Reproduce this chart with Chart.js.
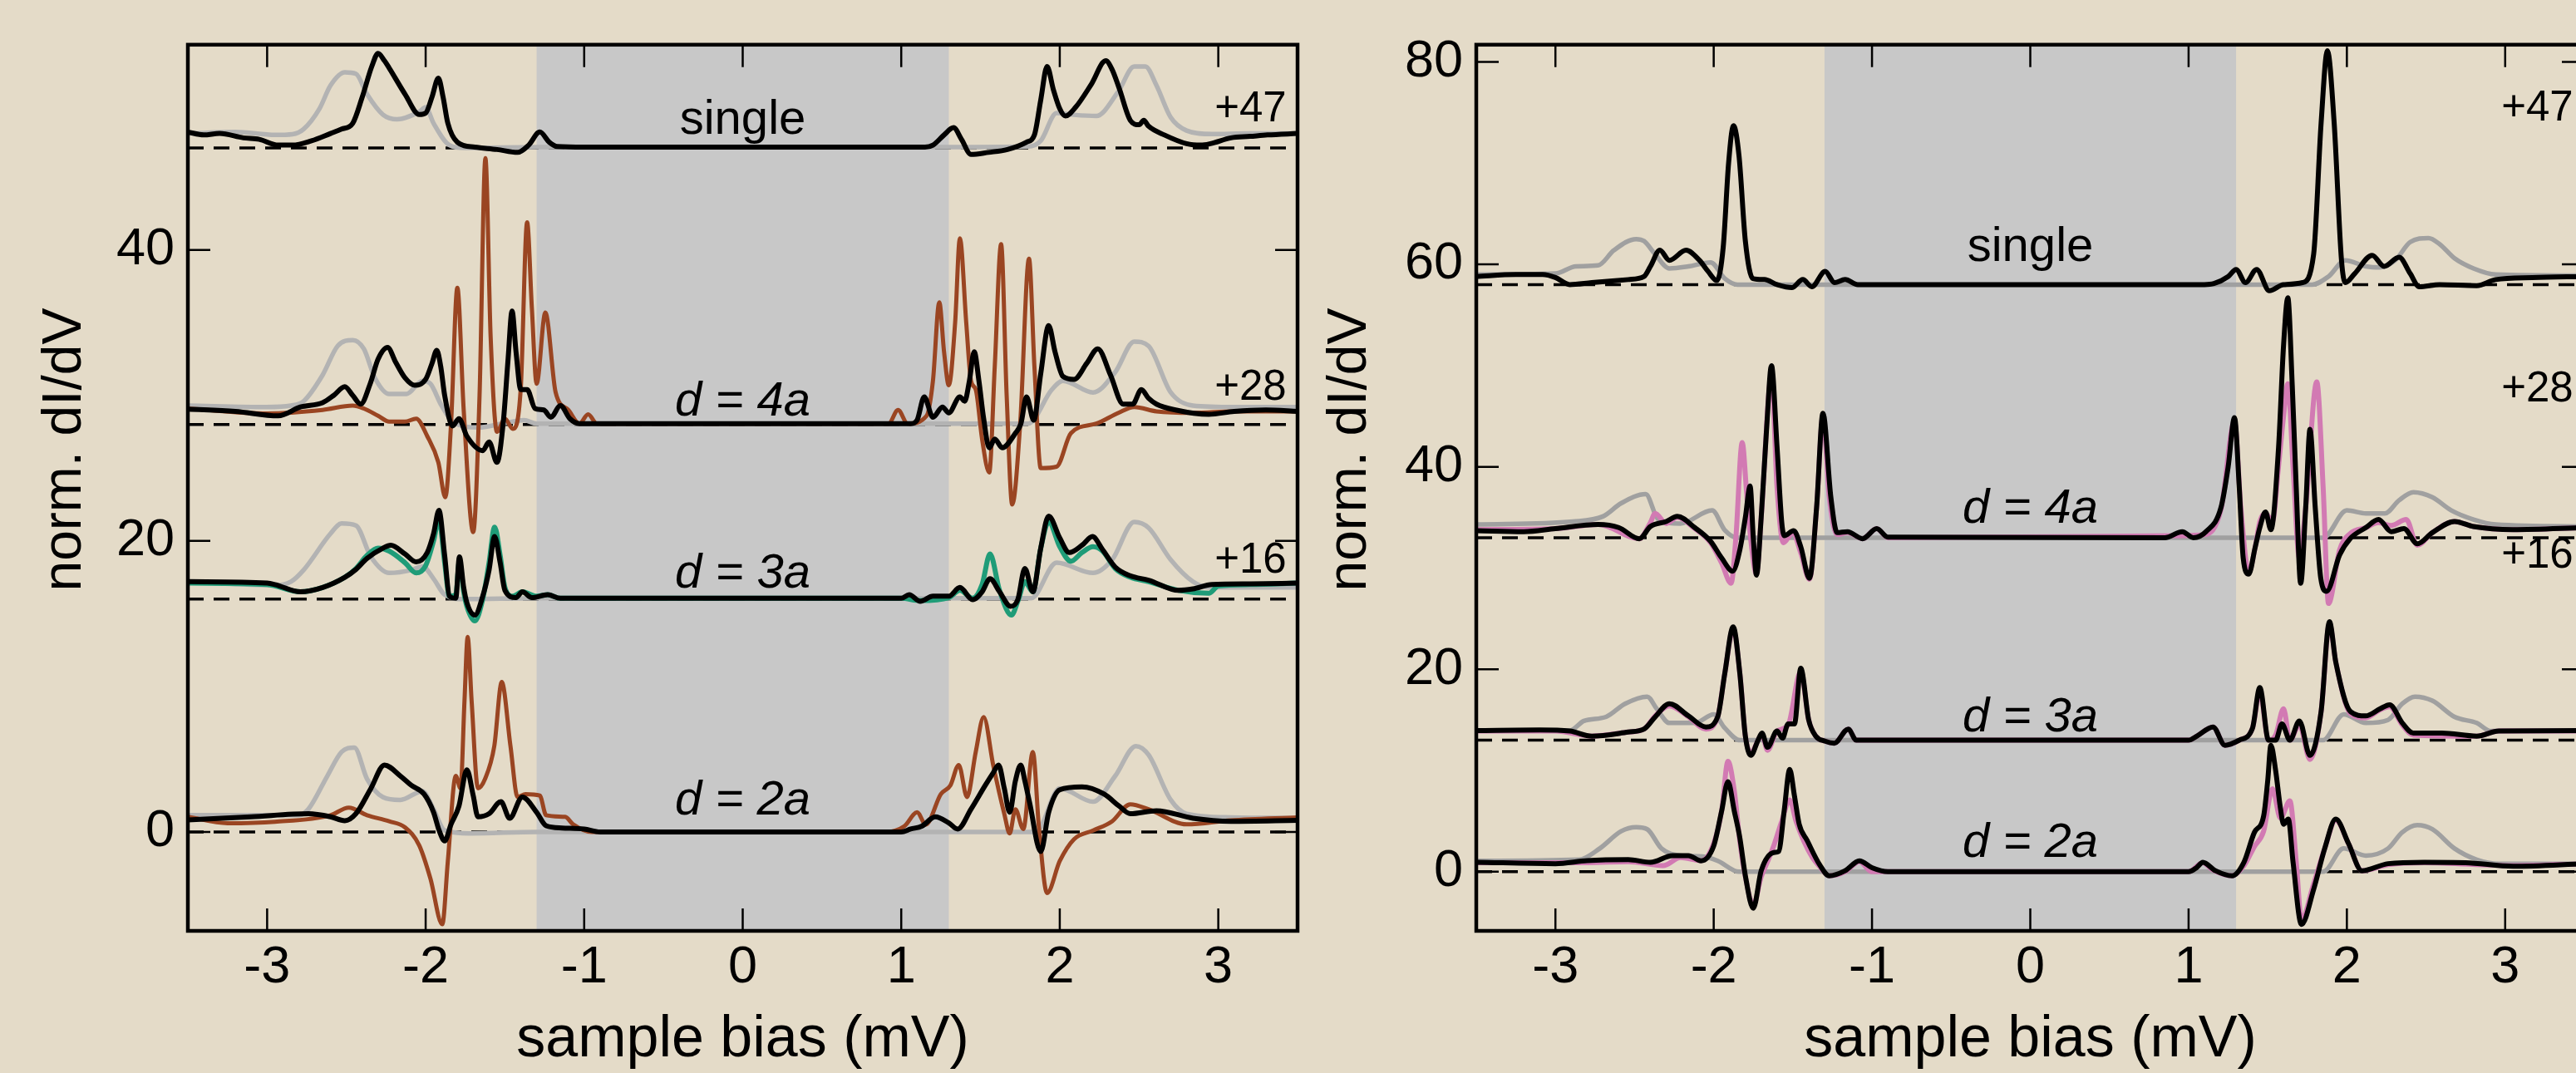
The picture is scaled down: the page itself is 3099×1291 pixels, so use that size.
<!DOCTYPE html>
<html>
<head>
<meta charset="utf-8">
<script src="https://cdn.jsdelivr.net/npm/chart.js@4.4.1/dist/chart.umd.min.js"></script>
<style>
    html, body { margin: 0; padding: 0; overflow: hidden; background: #e4dbc8; width: 3099px; height: 1291px; }
    canvas { position: absolute; top: 0; }
    #left { left: 0; }
    #right { left: 1570px; }
</style>
</head>
<body>
<canvas id="left" width="1570" height="1291"></canvas>
<canvas id="right" width="1580" height="1291"></canvas>
<script>
// axis ticks and ranges
const xTicks = [-3, -2, -1, 0, 1, 2, 3];
const yTicksL = [0, 20, 40];
const yTicksR = [0, 20, 40, 60, 80];
const gapEdges = [-1.3, 1.3];
const groupNames = ["single", "d = 4a", "d = 3a", "d = 2a"];
const offsetLabels = ["+47", "+28", "+16"];
const baseL = [47, 28, 16, 0];
const baseR = [58, 33, 13, 0];

// ---- left panel: [bias mV, norm. dI/dV] ----
const singleGrayL = [[-3.5,48.0],[-3.2,48.1],[-2.95,47.9],[-2.84,47.95],[-2.77,48.3],[-2.67,49.7],[-2.6,51.3],[-2.51,52.2],[-2.44,52.1],[-2.37,50.7],[-2.27,49.3],[-2.18,48.97],[-2.04,49.5],[-2.0,49.8],[-1.95,48.7],[-1.85,47.2],[-1.75,47.0],[-1.3,47.06],[1.3,47.06],[1.8,47.1],[1.88,47.5],[1.98,49.4],[2.07,49.3],[2.23,49.2],[2.37,50.9],[2.47,52.6],[2.54,52.6],[2.61,51.3],[2.7,49.1],[2.8,48.2],[2.96,47.96],[3.2,48.0],[3.5,48.0]];
const singleBlackL = [[-3.5,48.1],[-3.4,47.9],[-3.3,48.0],[-3.15,47.7],[-3.05,47.6],[-2.93,47.2],[-2.84,47.2],[-2.72,47.5],[-2.6,48.0],[-2.53,48.3],[-2.46,48.7],[-2.4,50.5],[-2.34,52.6],[-2.3,53.5],[-2.26,53.0],[-2.23,52.5],[-2.13,50.7],[-2.04,49.3],[-2.0,49.4],[-1.96,50.5],[-1.92,51.8],[-1.89,50.5],[-1.86,48.7],[-1.8,47.4],[-1.69,47.06],[-1.55,46.9],[-1.42,46.7],[-1.35,47.2],[-1.28,48.1],[-1.22,47.4],[-1.17,47.1],[-1.0,47.06],[1.15,47.06],[1.2,47.2],[1.27,47.9],[1.33,48.4],[1.38,47.6],[1.44,46.56],[1.55,46.7],[1.67,46.9],[1.79,47.4],[1.84,47.9],[1.88,50.3],[1.92,52.6],[1.96,51.0],[2.0,49.7],[2.035,49.2],[2.1,49.8],[2.2,51.4],[2.29,53.0],[2.33,52.4],[2.375,51.1],[2.445,48.9],[2.5,48.6],[2.53,48.9],[2.56,48.5],[2.66,47.9],[2.8,47.3],[2.89,47.2],[2.95,47.3],[3.08,47.7],[3.2,47.8],[3.31,47.9],[3.5,48.0]];

const d4GrayL = [[-3.5,29.3],[-3.0,29.2],[-2.85,29.3],[-2.77,29.6],[-2.65,31.4],[-2.555,33.4],[-2.46,33.8],[-2.39,33.2],[-2.32,31.2],[-2.23,30.1],[-2.12,30.1],[-2.02,31.0],[-1.97,30.8],[-1.9,29.3],[-1.83,28.2],[-1.665,27.8],[-1.5,28.1],[-1.38,28.3],[-1.3,28.06],[1.8,28.06],[1.95,30.4],[2.02,31.0],[2.21,30.2],[2.35,31.6],[2.47,33.7],[2.56,33.4],[2.7,30.2],[2.84,29.3],[3.1,29.2],[3.5,29.2]];
const d4BrownL = [[-3.5,29.1],[-3.0,28.76],[-2.65,29.0],[-2.46,29.3],[-2.39,29.1],[-2.3,28.6],[-2.23,28.2],[-2.13,28.2],[-2.06,28.4],[-1.99,27.2],[-1.92,25.4],[-1.876,23.0],[-1.84,28.0],[-1.8,37.4],[-1.76,29.0],[-1.7,20.6],[-1.66,30.0],[-1.623,46.3],[-1.59,34.0],[-1.55,27.5],[-1.5,28.4],[-1.45,27.7],[-1.4,30.5],[-1.36,41.9],[-1.33,36.0],[-1.3,30.8],[-1.245,35.7],[-1.18,30.2],[-1.1,29.0],[-1.03,28.06],[-0.975,28.7],[-0.92,28.06],[0.92,28.06],[0.98,29.0],[1.04,28.06],[1.16,28.6],[1.2,31.0],[1.24,36.4],[1.27,33.0],[1.3,30.7],[1.34,35.0],[1.37,40.8],[1.41,35.0],[1.44,31.0],[1.47,30.4],[1.51,27.0],[1.555,24.7],[1.59,32.0],[1.63,40.4],[1.665,30.0],[1.7,22.5],[1.75,28.0],[1.806,39.4],[1.84,32.0],[1.88,25.0],[1.98,25.1],[2.07,27.4],[2.23,28.06],[2.37,28.8],[2.47,29.2],[2.61,28.9],[2.84,28.8],[3.1,28.9],[3.5,28.9]];
const d4BlackL = [[-3.5,29.06],[-3.2,28.9],[-2.93,28.6],[-2.79,29.2],[-2.65,29.5],[-2.58,30.0],[-2.51,30.6],[-2.46,30.0],[-2.41,29.4],[-2.35,30.8],[-2.3,32.5],[-2.24,33.3],[-2.19,32.3],[-2.13,31.2],[-2.07,30.7],[-2.0,31.1],[-1.96,32.2],[-1.93,33.1],[-1.905,32.0],[-1.88,30.0],[-1.83,27.9],[-1.79,28.4],[-1.74,27.2],[-1.64,26.2],[-1.6,26.8],[-1.55,25.4],[-1.51,28.2],[-1.48,32.5],[-1.455,35.8],[-1.43,33.0],[-1.4,30.4],[-1.36,30.4],[-1.31,29.1],[-1.255,29.0],[-1.21,28.5],[-1.15,29.3],[-1.09,28.4],[-1.03,28.06],[1.06,28.06],[1.1,28.3],[1.145,29.9],[1.2,28.5],[1.26,29.2],[1.3,28.8],[1.37,29.9],[1.4,29.6],[1.43,31.0],[1.46,33.0],[1.49,31.0],[1.52,28.4],[1.555,26.4],[1.59,27.0],[1.637,26.4],[1.72,27.4],[1.755,28.06],[1.79,29.9],[1.836,28.3],[1.88,31.5],[1.93,34.8],[1.97,33.0],[2.02,31.3],[2.09,31.1],[2.17,32.2],[2.24,33.2],[2.32,31.4],[2.4,29.4],[2.46,29.4],[2.515,30.4],[2.56,29.8],[2.61,29.4],[2.73,29.0],[2.94,28.7],[3.1,28.9],[3.3,29.0],[3.5,28.9]];

const d3GrayL = [[-3.5,17.2],[-2.95,16.95],[-2.85,17.2],[-2.77,18.0],[-2.6,20.5],[-2.53,21.2],[-2.44,21.06],[-2.345,18.9],[-2.23,17.8],[-2.09,18.0],[-2.02,18.25],[-1.95,17.4],[-1.88,16.3],[-1.76,16.0],[-1.3,16.06],[1.82,16.06],[1.98,18.5],[2.21,17.8],[2.33,18.7],[2.47,21.3],[2.56,20.9],[2.7,18.7],[2.84,17.2],[2.94,16.8],[3.5,16.8]];
const d3GreenL = [[-3.5,17.1],[-3.0,17.0],[-2.79,16.5],[-2.65,16.8],[-2.51,17.5],[-2.44,18.1],[-2.37,19.0],[-2.3,19.5],[-2.23,19.3],[-2.13,18.5],[-2.06,17.8],[-2.0,18.3],[-1.95,20.0],[-1.916,21.5],[-1.88,18.5],[-1.85,16.2],[-1.81,16.3],[-1.787,18.6],[-1.76,16.5],[-1.74,15.5],[-1.69,14.5],[-1.64,16.0],[-1.6,18.5],[-1.565,20.95],[-1.53,19.0],[-1.5,16.8],[-1.45,16.2],[-1.39,16.5],[-1.3,16.2],[-1.23,16.3],[-1.15,16.06],[1.0,16.06],[1.12,15.9],[1.3,16.1],[1.37,16.6],[1.45,16.06],[1.51,17.0],[1.56,19.1],[1.62,16.6],[1.695,14.9],[1.74,16.0],[1.78,17.2],[1.83,16.5],[1.88,19.5],[1.93,21.3],[2.0,19.6],[2.07,18.6],[2.14,19.2],[2.21,19.6],[2.27,19.3],[2.35,18.1],[2.445,17.5],[2.56,17.2],[2.75,16.6],[2.94,16.4],[3.0,16.9],[3.2,17.0],[3.5,17.1]];
const d3BlackL = [[-3.5,17.2],[-3.0,17.1],[-2.95,17.0],[-2.79,16.5],[-2.65,16.8],[-2.51,17.5],[-2.44,18.04],[-2.37,18.8],[-2.27,19.5],[-2.22,19.7],[-2.13,19.1],[-2.06,18.56],[-1.99,19.2],[-1.95,20.5],[-1.916,22.1],[-1.88,19.0],[-1.85,16.2],[-1.81,16.06],[-1.787,18.9],[-1.76,16.8],[-1.74,15.75],[-1.69,14.9],[-1.64,16.2],[-1.6,18.0],[-1.565,20.3],[-1.53,18.5],[-1.5,16.6],[-1.43,16.1],[-1.39,16.5],[-1.33,16.1],[-1.23,16.3],[-1.15,16.06],[1.0,16.06],[1.05,16.3],[1.12,15.85],[1.2,16.2],[1.3,16.2],[1.37,16.8],[1.45,15.96],[1.51,16.5],[1.56,17.4],[1.62,16.5],[1.69,15.5],[1.735,15.96],[1.78,18.1],[1.83,16.5],[1.88,19.5],[1.93,21.7],[2.0,20.2],[2.06,19.2],[2.14,19.7],[2.206,20.3],[2.27,19.4],[2.35,18.2],[2.445,17.6],[2.56,17.3],[2.75,16.6],[2.84,16.7],[2.96,17.0],[3.2,17.05],[3.5,17.1]];

const d2GrayL = [[-3.5,1.15],[-2.8,1.15],[-2.74,1.56],[-2.62,3.85],[-2.53,5.5],[-2.45,5.8],[-2.37,3.65],[-2.27,2.4],[-2.16,2.2],[-2.02,2.8],[-1.95,1.56],[-1.88,0.1],[-1.72,-0.1],[-1.3,0],[1.85,0],[2.0,3.0],[2.21,2.08],[2.35,3.85],[2.48,5.9],[2.56,5.3],[2.7,2.2],[2.8,1.25],[3.08,1.0],[3.5,0.95]];
const d2BrownL = [[-3.5,1.04],[-3.25,0.6],[-2.95,0.7],[-2.6,1.15],[-2.485,1.67],[-2.37,1.15],[-2.23,0.73],[-2.13,0.31],[-2.04,-0.94],[-1.97,-3.2],[-1.895,-6.35],[-1.86,-2.0],[-1.81,3.85],[-1.78,3.0],[-1.755,9.0],[-1.735,13.4],[-1.71,9.0],[-1.67,3.0],[-1.625,3.65],[-1.567,5.9],[-1.52,10.3],[-1.465,5.9],[-1.42,2.4],[-1.37,2.6],[-1.28,2.5],[-1.24,1.15],[-1.12,1.04],[-1.07,0.52],[-0.95,0],[0.9,0],[1.02,0.4],[1.1,1.35],[1.155,0.5],[1.25,2.6],[1.31,3.2],[1.363,4.6],[1.415,2.4],[1.47,5.5],[1.52,7.9],[1.58,4.6],[1.65,1.25],[1.684,-0.1],[1.72,1.56],[1.77,0.2],[1.83,5.5],[1.87,0.1],[1.92,-4.2],[2.0,-2.0],[2.09,-0.5],[2.21,0.1],[2.33,0.73],[2.445,1.9],[2.56,1.56],[2.8,0.52],[3.08,0.8],[3.5,1.0]];
const d2BlackL = [[-3.5,0.83],[-3.1,1.04],[-2.74,1.25],[-2.6,1.04],[-2.51,0.77],[-2.44,1.25],[-2.345,3.0],[-2.26,4.6],[-2.16,3.85],[-2.09,3.2],[-2.01,2.6],[-1.95,1.35],[-1.915,0.1],[-1.88,-0.62],[-1.84,0.52],[-1.79,1.77],[-1.74,4.27],[-1.7,2.5],[-1.67,1.04],[-1.6,1.25],[-1.525,2.08],[-1.47,0.94],[-1.39,2.4],[-1.3,1.35],[-1.24,0.42],[-1.14,0.27],[-1.0,0.2],[-0.9,0],[1.0,0],[1.06,0.2],[1.13,0.4],[1.215,1.04],[1.3,0.62],[1.356,0.2],[1.44,1.56],[1.53,3.2],[1.58,4.06],[1.614,4.6],[1.65,3.0],[1.684,1.35],[1.72,3.5],[1.754,4.6],[1.78,3.5],[1.81,2.0],[1.88,-1.35],[1.93,1.35],[2.0,2.9],[2.14,3.1],[2.28,2.6],[2.375,1.77],[2.445,1.25],[2.61,1.46],[2.84,0.94],[3.08,0.73],[3.5,0.8]];

// ---- right panel ----
const singleGrayR = [[-3.5,59.0],[-3.0,59.1],[-2.87,59.8],[-2.73,59.9],[-2.63,61.4],[-2.49,62.5],[-2.44,62.3],[-2.37,61.0],[-2.28,59.6],[-2.16,59.8],[-2.02,60.2],[-1.93,58.6],[-1.85,58.0],[-1.3,58.0],[1.78,58.0],[1.884,58.8],[1.99,60.4],[2.12,59.8],[2.21,59.7],[2.305,60.4],[2.4,62.2],[2.516,62.6],[2.586,62.0],[2.68,60.6],[2.8,59.6],[2.94,59.0],[3.5,58.9]];
const singleBlackR = [[-3.5,58.8],[-3.25,59.0],[-3.08,59.0],[-3.0,58.7],[-2.91,58.0],[-2.77,58.2],[-2.54,58.5],[-2.44,58.8],[-2.4,59.8],[-2.34,61.4],[-2.28,60.4],[-2.175,61.4],[-2.09,60.4],[-2.035,59.3],[-1.98,58.4],[-1.94,61.7],[-1.906,70.0],[-1.875,73.7],[-1.84,70.7],[-1.8,62.3],[-1.753,58.6],[-1.68,58.5],[-1.6,58.0],[-1.507,57.7],[-1.437,58.5],[-1.38,57.8],[-1.296,59.3],[-1.237,58.2],[-1.17,58.5],[-1.09,58.0],[1.1,58.0],[1.16,58.1],[1.25,58.8],[1.3,59.5],[1.36,58.2],[1.43,59.5],[1.51,57.4],[1.6,58.0],[1.72,58.2],[1.79,61.0],[1.837,73.9],[1.877,81.1],[1.92,73.9],[1.966,60.4],[1.99,58.2],[2.05,59.1],[2.16,60.9],[2.235,59.8],[2.33,60.7],[2.4,59.1],[2.457,57.8],[2.586,58.0],[2.82,57.9],[2.94,58.5],[3.17,58.7],[3.5,58.8]];

const d4GrayR = [[-3.5,34.3],[-2.89,34.6],[-2.7,35.1],[-2.585,36.4],[-2.43,37.3],[-2.35,34.8],[-2.21,34.4],[-2.01,35.7],[-1.93,33.75],[-1.85,33.0],[-1.3,33.0],[1.85,33.0],[2.0,35.7],[2.12,35.4],[2.24,35.4],[2.33,36.7],[2.42,37.5],[2.54,37.0],[2.66,35.7],[2.8,34.8],[2.94,34.3],[3.5,34.1]];
const d4PinkR = [[-3.5,33.8],[-3.0,33.9],[-2.73,34.3],[-2.47,32.9],[-2.4,34.5],[-2.37,35.4],[-2.3,34.4],[-2.23,35.0],[-2.12,33.9],[-2.02,32.5],[-1.95,30.5],[-1.89,28.5],[-1.86,33.0],[-1.82,42.4],[-1.79,37.0],[-1.76,32.0],[-1.73,29.4],[-1.7,35.0],[-1.635,49.0],[-1.6,38.0],[-1.56,32.5],[-1.5,33.5],[-1.45,31.5],[-1.395,28.9],[-1.35,36.0],[-1.31,45.0],[-1.27,37.0],[-1.22,33.3],[-1.155,33.5],[-1.06,32.9],[-0.97,33.9],[-0.9,33.0],[0.96,33.2],[1.1,33.3],[1.205,35.8],[1.29,44.5],[1.33,36.0],[1.38,29.6],[1.42,32.0],[1.45,34.6],[1.486,35.4],[1.53,34.6],[1.568,40.0],[1.6,45.0],[1.627,48.2],[1.66,40.0],[1.7,31.0],[1.74,36.0],[1.81,48.4],[1.85,38.0],[1.884,26.5],[1.954,31.8],[2.02,33.4],[2.12,34.0],[2.2,34.5],[2.28,34.2],[2.375,34.8],[2.445,32.25],[2.54,33.5],[2.68,34.6],[2.8,34.1],[3.05,33.8],[3.5,34.0]];
const d4BlackR = [[-3.5,33.7],[-3.2,33.6],[-3.0,33.9],[-2.73,34.3],[-2.6,34.0],[-2.47,32.9],[-2.4,34.1],[-2.3,34.6],[-2.23,35.1],[-2.12,34.0],[-2.02,32.65],[-1.95,31.0],[-1.88,29.7],[-1.835,31.8],[-1.8,35.0],[-1.77,38.1],[-1.75,33.0],[-1.73,29.3],[-1.7,35.0],[-1.665,44.0],[-1.635,50.0],[-1.6,42.0],[-1.57,34.5],[-1.554,33.2],[-1.495,33.7],[-1.45,32.1],[-1.395,29.0],[-1.35,36.0],[-1.31,45.3],[-1.26,37.0],[-1.22,33.5],[-1.155,33.6],[-1.06,32.9],[-0.97,33.9],[-0.9,33.05],[0.85,33.0],[0.96,33.6],[1.03,33.0],[1.11,33.6],[1.205,36.0],[1.25,40.0],[1.29,44.85],[1.32,38.0],[1.345,31.0],[1.38,29.4],[1.42,32.0],[1.45,34.0],[1.486,35.55],[1.52,33.8],[1.568,41.8],[1.6,52.0],[1.627,56.7],[1.655,48.0],[1.68,38.0],[1.708,28.5],[1.74,36.0],[1.767,43.7],[1.8,36.0],[1.835,29.0],[1.872,27.7],[1.954,31.3],[2.02,32.9],[2.12,34.0],[2.2,34.8],[2.28,33.6],[2.36,33.9],[2.445,32.4],[2.54,33.5],[2.68,34.6],[2.8,34.1],[3.05,33.8],[3.5,34.0]];

const d3GrayR = [[-3.5,13.9],[-2.91,13.94],[-2.82,14.9],[-2.68,15.3],[-2.56,16.6],[-2.42,17.3],[-2.36,16.1],[-2.28,14.7],[-2.12,14.7],[-2.0,15.55],[-1.93,14.2],[-1.835,13.0],[-1.3,13.0],[1.85,13.0],[1.98,15.55],[2.12,14.7],[2.26,15.0],[2.35,16.6],[2.43,17.3],[2.54,16.9],[2.68,15.3],[2.82,14.7],[2.91,13.9],[3.5,13.9]];
const d3PinkR = [[-3.5,13.9],[-3.0,13.9],[-2.77,13.4],[-2.54,13.8],[-2.44,14.1],[-2.37,15.4],[-2.28,16.4],[-2.16,15.3],[-2.05,14.1],[-1.975,15.3],[-1.93,19.6],[-1.877,24.0],[-1.835,19.6],[-1.8,13.4],[-1.765,11.8],[-1.695,13.5],[-1.66,12.0],[-1.6,13.9],[-1.53,14.5],[-1.45,19.8],[-1.4,15.0],[-1.355,13.4],[-1.296,12.9],[-1.238,12.7],[-1.15,14.1],[-1.1,13.0],[1.0,13.0],[1.053,13.4],[1.154,14.3],[1.23,12.5],[1.32,13.0],[1.404,14.2],[1.45,17.8],[1.505,13.0],[1.55,13.5],[1.6,16.1],[1.64,13.0],[1.7,14.5],[1.767,11.1],[1.837,15.8],[1.89,24.5],[1.93,20.7],[2.024,15.6],[2.118,15.2],[2.21,16.0],[2.27,16.3],[2.35,14.5],[2.42,13.5],[2.82,13.4],[2.96,13.9],[3.5,13.9]];
const d3BlackR = [[-3.5,13.94],[-3.1,14.0],[-2.91,13.9],[-2.77,13.4],[-2.54,13.8],[-2.44,14.1],[-2.37,15.3],[-2.28,16.6],[-2.16,15.4],[-2.05,14.3],[-1.975,15.3],[-1.93,19.6],[-1.877,24.2],[-1.835,19.6],[-1.8,13.4],[-1.765,11.5],[-1.72,13.0],[-1.695,13.7],[-1.66,12.3],[-1.6,13.9],[-1.565,13.2],[-1.53,14.6],[-1.49,14.6],[-1.45,20.1],[-1.4,15.0],[-1.355,13.4],[-1.296,12.9],[-1.238,12.7],[-1.15,14.1],[-1.1,13.0],[1.0,13.0],[1.053,13.4],[1.154,14.3],[1.23,12.5],[1.32,13.0],[1.404,14.2],[1.45,18.2],[1.505,13.0],[1.55,13.0],[1.59,14.6],[1.64,13.0],[1.7,14.9],[1.767,11.5],[1.837,15.8],[1.89,24.7],[1.93,20.7],[2.024,15.8],[2.118,15.4],[2.21,16.1],[2.27,16.5],[2.35,14.7],[2.42,13.7],[2.6,13.7],[2.82,13.4],[2.96,13.9],[3.5,13.94]];

const d2GrayR = [[-3.5,1.08],[-2.85,1.2],[-2.72,2.3],[-2.585,4.0],[-2.49,4.4],[-2.42,4.2],[-2.33,2.3],[-2.21,1.6],[-2.07,1.5],[-1.975,1.08],[-1.84,0],[-1.3,0],[1.85,0],[1.98,2.3],[2.12,1.6],[2.26,2.3],[2.35,3.9],[2.445,4.6],[2.54,4.2],[2.68,2.3],[2.82,1.2],[2.96,0.8],[3.5,0.8]];
const d2PinkR = [[-3.5,0.9],[-2.8,0.9],[-2.54,1.0],[-2.32,0.6],[-2.21,1.4],[-2.08,1.1],[-2.0,2.8],[-1.95,6.0],[-1.91,10.9],[-1.87,8.0],[-1.835,3.0],[-1.8,-0.5],[-1.75,-3.3],[-1.7,-0.5],[-1.66,1.0],[-1.62,2.6],[-1.57,5.0],[-1.52,7.1],[-1.48,5.0],[-1.43,3.0],[-1.38,1.5],[-1.33,0.5],[-1.27,-0.4],[-1.17,0.0],[-1.08,1.0],[-1.0,0.0],[1.0,0],[1.09,0.9],[1.15,0.2],[1.275,-0.4],[1.35,0.6],[1.416,2.5],[1.474,4.0],[1.53,8.2],[1.58,5.3],[1.64,7.0],[1.68,1.0],[1.713,-4.7],[1.79,-1.2],[1.86,2.3],[1.93,5.1],[2.01,2.8],[2.095,0.1],[2.26,0.7],[2.49,0.9],[3.05,0.6],[3.5,0.8]];
const d2BlackR = [[-3.5,0.94],[-3.0,0.8],[-2.8,1.1],[-2.54,1.2],[-2.4,0.94],[-2.26,1.6],[-2.16,1.6],[-2.08,1.08],[-2.0,2.55],[-1.95,6.0],[-1.91,8.9],[-1.87,6.0],[-1.835,3.36],[-1.8,-0.4],[-1.75,-3.6],[-1.7,0.1],[-1.62,1.9],[-1.59,2.0],[-1.555,6.0],[-1.52,10.1],[-1.49,7.5],[-1.46,4.7],[-1.41,3.1],[-1.33,0.67],[-1.27,-0.4],[-1.17,0.1],[-1.08,1.08],[-1.0,0.4],[-0.9,0],[1.0,0],[1.05,0.4],[1.09,0.94],[1.17,0.1],[1.275,-0.4],[1.35,0.94],[1.416,3.9],[1.474,5.5],[1.5,9.0],[1.52,12.5],[1.55,10.0],[1.58,6.3],[1.6,4.7],[1.63,5.2],[1.66,0.94],[1.713,-5.2],[1.79,-1.75],[1.86,2.3],[1.93,5.2],[2.01,2.8],[2.095,0.1],[2.26,0.8],[2.49,0.94],[2.75,0.9],[3.05,0.54],[3.5,0.8]];

const X_MIN = -3.5, X_MAX = 3.5;
const FONT = '"Liberation Sans", Arial, sans-serif';
const Y_TITLE = "norm. dI/dV";

function curve(points, color, width, order) {
    return {
        data: points.map(([x, y]) => ({ x, y })),
        borderColor: color,
        borderWidth: width,
        pointRadius: 0,
        cubicInterpolationMode: "monotone",
        fill: false,
        order: order
    };
}

function dashed(v) {
    return {
        data: [{ x: X_MIN, y: v }, { x: X_MAX, y: v }],
        borderColor: "#000",
        borderWidth: 3.5,
        borderDash: [19, 12],
        pointRadius: 0,
        fill: false,
        order: 5
    };
}

// shaded gap, frame, inward ticks and text labels
const decor = {
    id: "decor",
    beforeDatasetsDraw(chart) {
        const { ctx, chartArea: a, scales: { x } } = chart;
        const x0 = x.getPixelForValue(gapEdges[0]);
        const x1 = x.getPixelForValue(gapEdges[1]);
        ctx.save();
        ctx.fillStyle = "#c8c8c8";
        ctx.fillRect(x0, a.top, x1 - x0, a.bottom - a.top);
        ctx.restore();
    },
    afterDatasetsDraw(chart, args, opts) {
        const { ctx, chartArea: a, scales: { x, y } } = chart;
        ctx.save();
        ctx.strokeStyle = "#000";
        ctx.lineWidth = 2.5;
        const tl = 27;
        xTicks.forEach(v => {
            const px = x.getPixelForValue(v);
            ctx.beginPath();
            ctx.moveTo(px, a.bottom); ctx.lineTo(px, a.bottom - tl);
            ctx.moveTo(px, a.top); ctx.lineTo(px, a.top + tl);
            ctx.stroke();
        });
        opts.yTicks.forEach(v => {
            const py = y.getPixelForValue(v);
            ctx.beginPath();
            ctx.moveTo(a.left, py); ctx.lineTo(a.left + tl, py);
            ctx.moveTo(a.right, py); ctx.lineTo(a.right - tl, py);
            ctx.stroke();
        });
        ctx.lineWidth = 4.5;
        ctx.strokeRect(a.left, a.top, a.right - a.left, a.bottom - a.top);

        ctx.fillStyle = "#000";
        ctx.textAlign = "center";
        ctx.textBaseline = "alphabetic";
        groupNames.forEach((t, i) => {
            ctx.font = (i === 0 ? "" : "italic ") + "58px " + FONT;
            ctx.fillText(t, x.getPixelForValue(0), y.getPixelForValue(opts.nameY[i]));
        });
        ctx.textAlign = "right";
        ctx.font = "51px " + FONT;
        offsetLabels.forEach((t, i) => {
            ctx.fillText(t, x.getPixelForValue(3.43), y.getPixelForValue(opts.offsetY[i]));
        });

        // y axis title, sitting a little above the plot's middle as in the figure
        ctx.translate(opts.titleX, 541);
        ctx.rotate(-Math.PI / 2);
        ctx.textAlign = "center";
        ctx.textBaseline = "middle";
        ctx.font = "66px " + FONT;
        ctx.fillText(Y_TITLE, 0, 0);
        ctx.restore();
    }
};

function makeChart(id, datasets, yMin, yMax, yTicks, yWidth, pad, deco) {
    const ctx = document.getElementById(id).getContext("2d");
    return new Chart(ctx, {
        type: "line",
        data: { datasets: datasets },
        plugins: [decor],
        options: {
            responsive: false,
            animation: false,
            events: [],
            layout: { padding: pad },
            plugins: {
                legend: { display: false },
                tooltip: { enabled: false },
                decor: deco
            },
            scales: {
                x: {
                    type: "linear",
                    min: X_MIN,
                    max: X_MAX,
                    afterFit: s => { s.height = 171; },
                    afterBuildTicks: s => { s.ticks = xTicks.map(v => ({ value: v })); },
                    grid: { display: false, drawTicks: false },
                    border: { display: false },
                    ticks: {
                        color: "#000",
                        padding: 7,
                        font: { family: FONT, size: 63, lineHeight: 1.2 },
                        callback: v => String(v)
                    },
                    title: {
                        display: true,
                        text: "sample bias (mV)",
                        color: "#000",
                        font: { family: FONT, size: 70, lineHeight: 1 },
                        padding: { top: 0, bottom: 4 }
                    }
                },
                y: {
                    type: "linear",
                    min: yMin,
                    max: yMax,
                    afterFit: s => { s.width = yWidth; },
                    afterBuildTicks: s => { s.ticks = yTicks.map(v => ({ value: v })); },
                    grid: { display: false, drawTicks: false },
                    border: { display: false },
                    ticks: {
                        color: "#000",
                        padding: 16,
                        font: { family: FONT, size: 63 },
                        callback: v => String(v)
                    },
                    title: { display: false, text: Y_TITLE }
                }
            }
        }
    });
}

const GRAY_L = "#b3b3b3", GRAY_R = "#a0a0a0", BLACK = "#000";
const BROWN = "#9a4522", GREEN = "#1f9c78", PINK = "#d27ab3";

const leftSets = [
    curve(singleBlackL, BLACK, 6, 0), curve(d4BlackL, BLACK, 6, 0), curve(d3BlackL, BLACK, 6, 0), curve(d2BlackL, BLACK, 6, 0),
    curve(d4BrownL, BROWN, 5, 1), curve(d3GreenL, GREEN, 6, 1), curve(d2BrownL, BROWN, 5, 1),
    curve(singleGrayL, GRAY_L, 5.5, 2), curve(d4GrayL, GRAY_L, 5.5, 2), curve(d3GrayL, GRAY_L, 5.5, 2), curve(d2GrayL, GRAY_L, 5.5, 2)
].concat(baseL.map(dashed));

const rightSets = [
    curve(singleBlackR, BLACK, 6, 0), curve(d4BlackR, BLACK, 6, 0), curve(d3BlackR, BLACK, 6, 0), curve(d2BlackR, BLACK, 6, 0),
    curve(d4PinkR, PINK, 6, 1), curve(d3PinkR, PINK, 6, 1), curve(d2PinkR, PINK, 6, 1),
    curve(singleGrayR, GRAY_R, 5.5, 2), curve(d4GrayR, GRAY_R, 5.5, 2), curve(d3GrayR, GRAY_R, 5.5, 2), curve(d2GrayR, GRAY_R, 5.5, 2)
].concat(baseR.map(dashed));

makeChart("left", leftSets, -6.8, 54.1, yTicksL, 226, { top: 38, right: 9, left: 0, bottom: 0 },
    { yTicks: yTicksL, titleX: 79, nameY: [47.96, 28.6, 16.8, 1.17], offsetY: [48.86, 29.7, 17.8] });

makeChart("right", rightSets, -5.84, 81.7, yTicksR, 206, { top: 41, right: 41, left: 0, bottom: 0 },
    { yTicks: yTicksR, titleX: 55, nameY: [60.3, 34.5, 13.9, 1.5], offsetY: [74.2, 46.5, 30.0] });
</script>
</body>
</html>
